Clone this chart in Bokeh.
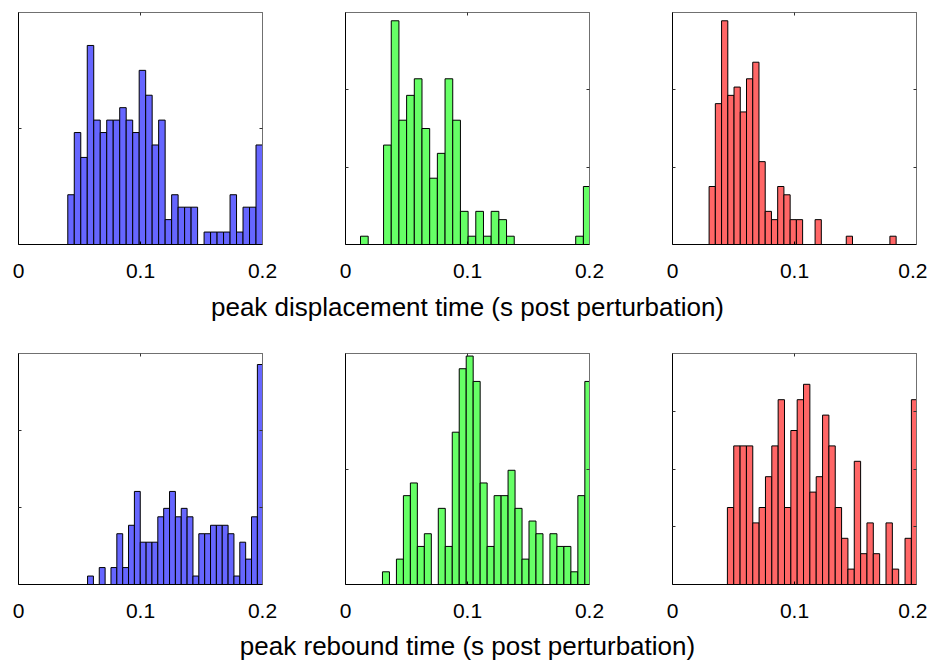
import numpy as np
from bokeh.plotting import figure
from bokeh.layouts import column, row
from bokeh.models import LinearAxis, FixedTicker, Range1d, Label
from bokeh.embed import file_html
from bokeh.resources import INLINE

# ---------------- data ----------------
x_ticks = [0, 0.1, 0.2]
x_tick_labels = ["0", "0.1", "0.2"]
x_max = 0.2

label_top = "peak displacement time (s post perturbation)"
label_bottom = "peak rebound time (s post perturbation)"

colors = ["#6666ff", "#66ff66", "#ff6666"]

# top row: peak displacement time (30 bins each: first edge, bin width, counts)
disp_blue_start = 0.0404
disp_blue_width = 0.00532
disp_blue_counts = [4, 9, 7, 16, 10, 9, 10, 10, 11, 10, 9, 14, 12, 8, 10,
                    2, 4, 3, 3, 3, 0, 1, 1, 1, 1, 4, 1, 3, 3, 8]
disp_blue_ymax = 18.65
disp_blue_yfracs = [0.5]

disp_green_start = 0.0123
disp_green_width = 0.0063
disp_green_counts = [1, 0, 0, 12, 27, 15, 18, 20, 14, 8, 11, 20, 15, 4, 1,
                     4, 1, 4, 3, 1, 0, 0, 0, 0, 0, 0, 0, 0, 1, 7]
disp_green_ymax = 28.0
disp_green_yfracs = [1 / 3, 2 / 3]

disp_red_start = 0.0300
disp_red_width = 0.00511
disp_red_counts = [7, 17, 27, 18, 19, 16, 20, 22, 10, 4, 3, 7, 6, 3, 3,
                   0, 0, 3, 0, 0, 0, 0, 1, 0, 0, 0, 0, 0, 0, 1]
disp_red_ymax = 28.0
disp_red_yfracs = [1 / 3, 2 / 3]

# bottom row: peak rebound time
reb_blue_start = 0.0566
reb_blue_width = 0.0048
reb_blue_counts = [1, 0, 2, 0, 2, 6, 2, 7, 11, 5, 5, 5, 8, 9, 11,
                   8, 9, 8, 1, 6, 6, 7, 7, 7, 6, 1, 5, 3, 8, 26]
reb_blue_ymax = 27.3
reb_blue_yfracs = [1 / 3, 2 / 3]

reb_green_start = 0.0303
reb_green_width = 0.00572
reb_green_counts = [1, 0, 2, 7, 8, 3, 4, 0, 6, 3, 12, 17, 18, 16, 8,
                    3, 7, 7, 9, 6, 2, 5, 4, 0, 4, 3, 3, 1, 7, 16]
reb_green_ymax = 18.2
reb_green_yfracs = [0.5]

reb_red_start = 0.0450
reb_red_width = 0.0052
reb_red_counts = [5, 9, 9, 9, 4, 5, 7, 9, 12, 5, 10, 12, 13, 6, 7,
                  11, 9, 5, 3, 1, 8, 2, 4, 2, 0, 4, 1, 0, 3, 12]
reb_red_ymax = 15.0
reb_red_yfracs = [0.25, 0.5, 0.75]

FONT = "Liberation Sans"

# ---------------- layout constants ----------------
FRAME_W = 244
B_LEFT = [18, 43, 43]
B_RIGHT = [40, 40, 11]
TOTAL_W = sum(B_LEFT) + sum(B_RIGHT) + 3 * FRAME_W
MID_CENTER = B_LEFT[0] + FRAME_W + B_RIGHT[0] + B_LEFT[1] + FRAME_W / 2


def hidden_axis(ticks, color):
    return LinearAxis(ticker=FixedTicker(ticks=ticks),
                      major_label_text_font_size="0px",
                      major_label_text_color=None,
                      major_label_standoff=0,
                      major_tick_in=3, major_tick_out=0,
                      minor_tick_line_color=None,
                      axis_line_color=color, major_tick_line_color="#303030")


def make_panel(start, width, counts, ymax, yfracs, color, col,
               b_top, b_bottom, frame_h):
    p = figure(frame_width=FRAME_W, frame_height=frame_h,
               x_range=Range1d(0, x_max), y_range=Range1d(0, ymax),
               output_backend="svg", toolbar_location=None,
               x_axis_location="below", y_axis_location=None,
               min_border_left=B_LEFT[col], min_border_right=B_RIGHT[col],
               min_border_top=b_top, min_border_bottom=b_bottom,
               background_fill_color="white", border_fill_color="white")
    p.xgrid.visible = False
    p.ygrid.visible = False
    p.outline_line_color = None

    edges = start + width * np.arange(len(counts) + 1)
    p.quad(left=edges[:-1], right=edges[1:], bottom=0, top=counts,
           fill_color=color, line_color="black", line_width=1)

    xa = p.xaxis[0]
    xa.ticker = FixedTicker(ticks=x_ticks)
    xa.major_label_overrides = {t: l for t, l in zip(x_ticks, x_tick_labels)}
    xa.major_label_text_font = FONT
    xa.major_label_text_font_size = "21px"
    xa.major_label_text_color = "black"
    xa.major_label_standoff = 19
    xa.major_tick_in = 3
    xa.major_tick_out = 0
    xa.minor_tick_line_color = None
    xa.axis_line_color = "black"
    xa.major_tick_line_color = "black"

    yticks = [f * ymax for f in yfracs]
    p.add_layout(hidden_axis(yticks, "black"), "left")
    p.add_layout(hidden_axis(x_ticks, "#707070"), "above")
    p.add_layout(hidden_axis(yticks, "#707070"), "right")
    return p


def label_strip(text, height, baseline_from_bottom):
    s = figure(width=TOTAL_W, height=height, min_border=0,
               x_range=Range1d(0, TOTAL_W), y_range=Range1d(0, height),
               x_axis_location=None, y_axis_location=None,
               output_backend="svg", toolbar_location=None,
               background_fill_color="white", border_fill_color="white")
    s.outline_line_color = None
    s.grid.visible = False
    s.add_layout(Label(x=MID_CENTER, y=baseline_from_bottom, text=text,
                       text_align="center", text_baseline="alphabetic",
                       text_font=FONT, text_font_size="26px",
                       text_color="black"))
    return s


f1 = make_panel(disp_blue_start, disp_blue_width, disp_blue_counts, disp_blue_ymax,
                disp_blue_yfracs, colors[0], 0, 12, 46, 232)
f2 = make_panel(disp_green_start, disp_green_width, disp_green_counts, disp_green_ymax,
                disp_green_yfracs, colors[1], 1, 12, 46, 232)
f3 = make_panel(disp_red_start, disp_red_width, disp_red_counts, disp_red_ymax,
                disp_red_yfracs, colors[2], 2, 12, 46, 232)

f4 = make_panel(reb_blue_start, reb_blue_width, reb_blue_counts, reb_blue_ymax,
                reb_blue_yfracs, colors[0], 0, 13, 46, 231)
f5 = make_panel(reb_green_start, reb_green_width, reb_green_counts, reb_green_ymax,
                reb_green_yfracs, colors[1], 1, 13, 46, 231)
f6 = make_panel(reb_red_start, reb_red_width, reb_red_counts, reb_red_ymax,
                reb_red_yfracs, colors[2], 2, 13, 46, 231)

strip1 = label_strip(label_top, 50, 34)
strip2 = label_strip(label_bottom, 30, 15)

layout = column(row(f1, f2, f3), strip1, row(f4, f5, f6), strip2)

open("out.html", "w").write(file_html(layout, INLINE))
